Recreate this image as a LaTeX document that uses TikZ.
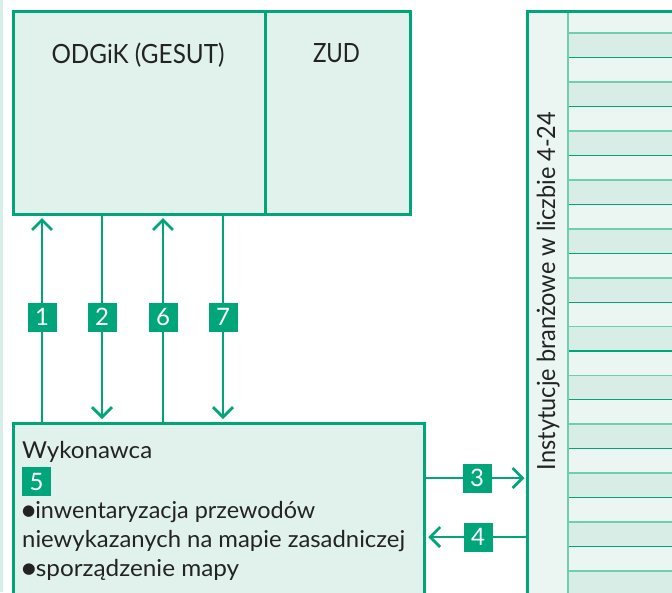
\documentclass[tikz,border=0pt]{standalone}
\usepackage{fontspec}
\setmainfont{Lato}
\newfontfamily\dejavu{DejaVu Sans}
\usepackage{graphicx}
\usetikzlibrary{arrows.meta}
\definecolor{grn}{RGB}{0,166,122}
\definecolor{boxfill}{RGB}{225,242,236}
\definecolor{collight}{RGB}{235,245,241}
\definecolor{coldark}{RGB}{216,237,229}
\definecolor{linelight}{RGB}{111,205,176}
\definecolor{txt}{RGB}{35,35,35}
\definecolor{edgestrip}{RGB}{215,240,231}
\newsavebox\fitbox
\newlength\fitlen
\newcommand\fitw[2]{\sbox\fitbox{#2}\setlength\fitlen{\wd\fitbox}\pgfmathsetmacro\fitr{#1/\fitlen}\scalebox{\fitr}[1]{\usebox\fitbox}}
\newcommand\bul{\raisebox{2.2pt}{\dejavu\fontsize{15pt}{15pt}\selectfont ●}}
\begin{document}
\begin{tikzpicture}[x=1pt,y=-1pt,
  tbox/.style={draw=grn, fill=boxfill, line width=2.5pt, inner sep=0pt},
  ttext/.style={inner sep=0pt, text=txt, font=\fontsize{26.5pt}{30pt}\selectfont},
  btext/.style={inner sep=0pt, text=txt, font=\fontsize{23.3pt}{28pt}\selectfont},
  vtext/.style={inner sep=0pt, text=txt, font=\fontsize{25pt}{28pt}\selectfont},
  numbox/.style={fill=grn, text=white, minimum width=29pt, minimum height=29pt, inner sep=0pt, font=\fontsize{24pt}{24pt}\selectfont},
  arr/.style={draw=grn, line width=2.7pt, -{Straight Barb[length=10pt,width=20pt]}},
  wire/.style={draw=grn, line width=2.5pt}
]
\useasboundingbox (0,0) rectangle (672,592);
\clip (0,0) rectangle (672,592);
\fill[white] (0,0) rectangle (672,592);
\fill[edgestrip] (0,0) rectangle (2.5,592);

% top boxes
\node[tbox, minimum width=252pt, minimum height=203pt, anchor=north west] (odgik) at (12,10) {};
\node[tbox, minimum width=145pt, minimum height=203pt, anchor=north west] (zud) at (264,10) {};
\node[ttext, anchor=base] (todgik) at (138,63) {\fitw{173}{ODGiK (GESUT)}};
\node[ttext, anchor=base] (tzud) at (336.5,62.5) {\fitw{47}{ZUD}};

% bottom box
\node[tbox, minimum width=411pt, minimum height=220pt, anchor=north west] (wyk) at (12,422) {};
\node[btext, anchor=base west] (w1) at (22,458) {\fitw{130}{Wykonawca}};
\node[numbox, anchor=north west] (n5) at (22,467) {5};
\node[btext, anchor=base west] (w2) at (22,518) {\fitw{293}{\bul inwentaryzacja przewodów}};
\node[btext, anchor=base west] (w3) at (22,547) {\fitw{383}{niewykazanych na mapie zasadniczej}};
\node[btext, anchor=base west] (w4) at (22,576) {\fitw{217}{\bul sporządzenie mapy}};

% right column
\fill[collight] (526,10) rectangle (690,600);
\foreach \k in {0,2,...,22} \fill[coldark] (568,{33.3+24.44*\k}) rectangle (690,{33.3+24.44*(\k+1)});
\foreach \k in {0,2,...,22} \draw[linelight, line width=1.8pt] (568,{33.3+24.44*\k}) -- (690,{33.3+24.44*\k});
\foreach \k in {1,3,...,21} \draw[grn, line width=1.1pt] (568,{33.3+24.44*\k}) -- (690,{33.3+24.44*\k});
\draw[linelight, line width=2pt] (568,10) -- (568,600);
\node[draw=grn, line width=3pt, minimum width=170pt, minimum height=600pt, anchor=north west, inner sep=0pt] (inst) at (526,10) {};
\node[vtext, rotate=90, anchor=base] (tinst) at (555,291) {\fitw{358}{Instytucje branżowe w liczbie 4-24}};

% vertical connectors
\coordinate (a1) at (42,317);
\coordinate (a2) at (102,317);
\coordinate (a6) at (163,317);
\coordinate (a7) at (223,317);
\draw[arr, shorten >=2.5pt] (wyk.north -| a1) -- (odgik.south -| a1);
\draw[arr, shorten >=3pt] (odgik.south -| a2) -- (wyk.north -| a2);
\draw[arr, shorten >=2.5pt] (wyk.north -| a6) -- (odgik.south -| a6);
\draw[arr, shorten >=3pt] (odgik.south -| a7) -- (wyk.north -| a7);
\node[numbox] (l1) at (a1) {1};
\node[numbox] (l2) at (a2) {2};
\node[numbox] (l6) at (a6) {6};
\node[numbox] (l7) at (a7) {7};

% horizontal connectors
\coordinate (a3) at (477,478);
\coordinate (a4) at (478,537);
\draw[arr, shorten >=1.5pt] (wyk.east |- a3) -- (inst.west |- a3);
\draw[arr, shorten >=2.75pt] (inst.west |- a4) -- (wyk.east |- a4);
\node[numbox] (l3) at (a3) {3};
\node[numbox] (l4) at (a4) {4};
\end{tikzpicture}
\end{document}
